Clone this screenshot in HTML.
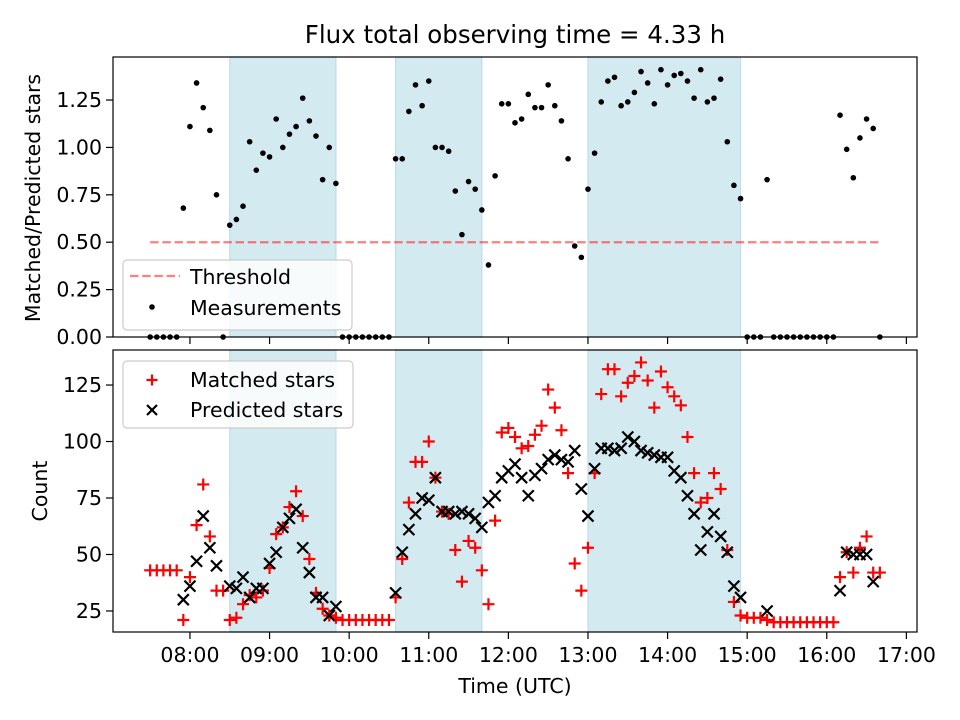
<!DOCTYPE html>
<html><head><meta charset="utf-8">
<style>
html,body{margin:0;padding:0;background:#fff;}
svg{display:block;font-family:"DejaVu Sans","Liberation Sans",sans-serif;}
</style></head>
<body>
<svg id="chart" width="960" height="720" viewBox="0 0 960 720" xmlns="http://www.w3.org/2000/svg">
  <rect width="960" height="720" fill="#fff"/>
  <text x="515" y="43" font-size="24.5" text-anchor="middle">Flux total observing time = 4.33 h</text>
  <g id="topPanel"></g>
  <g id="botPanel"></g>
  <text transform="translate(40,198) rotate(-90)" font-size="20.5" text-anchor="middle">Matched/Predicted stars</text>
  <text transform="translate(47,491) rotate(-90)" font-size="20.5" text-anchor="middle">Count</text>
  <text x="515" y="693" font-size="20.5" text-anchor="middle">Time (UTC)</text>
</svg>
<script>
// time in minutes since 00:00 UTC
const times = [450,455,460,465,470,475,480,485,490,495,500,505,510,515,520,525,530,535,540,545,550,555,560,565,570,575,580,585,590,595,600,605,610,615,620,625,630,635,640,645,650,655,660,665,670,675,680,685,690,695,700,705,710,715,720,725,730,735,740,745,750,755,760,765,770,775,780,785,790,795,800,805,810,815,820,825,830,835,840,845,850,855,860,865,870,875,880,885,890,895,900,905,910,915,920,925,930,935,940,945,950,955,960,965,970,975,980,985,990,995,1000];
const ratio = [0,0,0,0,0,0.68,1.11,1.34,1.21,1.09,0.75,0,0.59,0.62,0.69,1.03,0.88,0.97,0.95,1.15,1.00,1.07,1.11,1.26,1.14,1.06,0.83,1.00,0.81,0,0,0,0,0,0,0,0,0.94,0.94,1.19,1.33,1.22,1.35,1.00,1.00,0.98,0.77,0.54,0.82,0.78,0.67,0.38,0.85,1.23,1.23,1.13,1.15,1.28,1.21,1.21,1.33,1.22,1.14,0.94,0.48,0.42,0.78,0.97,1.24,1.35,1.37,1.22,1.24,1.29,1.40,1.34,1.23,1.41,1.33,1.38,1.39,1.35,1.26,1.41,1.24,1.26,1.36,1.03,0.80,0.73,0,0,0,0.83,0,0,0,0,0,0,0,0,0,0,1.17,0.99,0.84,1.05,1.15,1.10,0];
const matched = [43,43,43,43,43,21,40,63,81,58,34,34,21,22,28,32,31,34,44,59,62,71,78,67,48,33,26,23,22,21,21,21,21,21,21,21,21,31,48,73,91,91,100,84,69,68,52,38,56,53,43,28,65,104,106,102,97,98,103,107,123,115,105,86,46,34,53,86,121,132,132,120,126,129,135,127,115,131,124,120,116,102,86,73,75,86,79,52,29,23,22,22,22,21,20,20,20,20,20,20,20,20,20,20,40,51,42,53,58,42,42];
const predicted = [null,null,null,null,null,30,36,47,67,53,45,null,36,35,40,31,35,35,46,51,62,66,70,53,42,31,31,23,27,null,null,null,null,null,null,null,null,33,51,61,68,75,74,84,69,69,68,69,68,66,62,73,76,84,87,90,84,76,85,88,92,94,92,91,96,79,67,88,97,97,96,97,102,100,96,95,94,93,93,87,84,76,68,52,60,68,58,51,36,31,null,null,null,25,null,null,null,null,null,null,null,null,null,null,34,51,50,50,50,38,null];
const spans = [[510,590],[635,700],[780,895]];
const threshold = 0.5;
const xTicks = [480,540,600,660,720,780,840,900,960,1020];
const xTickLabels = ["08:00","09:00","10:00","11:00","12:00","13:00","14:00","15:00","16:00","17:00"];
const ratioTicks = [0,0.25,0.5,0.75,1.0,1.25];
const ratioTickLabels = ["0.00","0.25","0.50","0.75","1.00","1.25"];
const countTicks = [25,50,75,100,125];
const countTickLabels = ["25","50","75","100","125"];

const NS = "http://www.w3.org/2000/svg";
const L = 113, R = 917;
const X0 = 422, X1 = 1028;
const xs = t => L + (t - X0) / (X1 - X0) * (R - L);
const TP = {top:57, bot:337, min:0, max:1.477};
const BP = {top:350, bot:632, min:15.7, max:140.5};
const ys = (P, v) => P.bot - (v - P.min) / (P.max - P.min) * (P.bot - P.top);
const FS = 20.5;

function mk(tag, attrs, parent){
  const e = document.createElementNS(NS, tag);
  for (const k in attrs) e.setAttribute(k, attrs[k]);
  parent.appendChild(e);
  return e;
}

function panel(g, P, ticks, labels, showXLabels, prefix){
  for (let i=0;i<spans.length;i++){
    const s = spans[i];
    const r = mk('rect',{x:xs(s[0]),y:P.top,width:xs(s[1])-xs(s[0]),height:P.bot-P.top,fill:'rgb(212,234,241)',stroke:'rgb(190,222,232)','stroke-width':1.2},g);
    
    
  }
  for (let i=0;i<ticks.length;i++){
    const y = ys(P, ticks[i]);
    mk('line',{x1:L-7,x2:L,y1:y,y2:y,stroke:'#000','stroke-width':1.2},g);
    const t = mk('text',{x:L-11,y:y+7,'font-size':FS,'text-anchor':'end'},g);
    t.textContent = labels[i];
    
    
  }
  for (let i=0;i<xTicks.length;i++){
    const x = xs(xTicks[i]);
    mk('line',{x1:x,x2:x,y1:P.bot,y2:P.bot+7,stroke:'#000','stroke-width':1.2},g);
    if (showXLabels){
      const t = mk('text',{x:x,y:P.bot+30,'font-size':FS,'text-anchor':'middle'},g);
      t.textContent = xTickLabels[i];
      
      
    }
  }
}

const topG = document.getElementById('topPanel');
const botG = document.getElementById('botPanel');
panel(topG, TP, ratioTicks, ratioTickLabels, false, 'ratio');
panel(botG, BP, countTicks, countTickLabels, true, 'count');

// threshold
const th = mk('line',{x1:xs(times[0]),x2:xs(times[times.length-1]),y1:ys(TP,threshold),y2:ys(TP,threshold),stroke:'rgba(255,0,0,0.5)','stroke-width':2.2,'stroke-dasharray':'8.5,3.7'},topG);



// measurements
for (let i=0;i<times.length;i++){
  const c = mk('circle',{cx:xs(times[i]),cy:ys(TP,ratio[i]),r:2.8,fill:'#000'},topG);
  
  
}

function plus(g,x,y,s){
  return mk('path',{d:`M${x-s} ${y}H${x+s}M${x} ${y-s}V${y+s}`,stroke:'#ff0000','stroke-width':2.2,fill:'none'},g);
}
function cross(g,x,y,s){
  return mk('path',{d:`M${x-s} ${y-s}L${x+s} ${y+s}M${x-s} ${y+s}L${x+s} ${y-s}`,stroke:'#000','stroke-width':2.2,fill:'none'},g);
}
for (let i=0;i<times.length;i++){
  const p = plus(botG, xs(times[i]), ys(BP, matched[i]), 6);
  
  
}
for (let i=0;i<times.length;i++){
  if (predicted[i]===null) continue;
  const p = cross(botG, xs(times[i]), ys(BP, predicted[i]), 5.5);
  
  
}

// spines
for (const P of [TP,BP]){
  const f = mk('rect',{x:L,y:P.top,width:R-L,height:P.bot-P.top,fill:'none',stroke:'#000','stroke-width':1.2},P===TP?topG:botG);
  
  
}

// legends
const lg1 = mk('g',{},topG);


mk('rect',{x:123,y:260,width:229,height:70,rx:4,fill:'rgba(255,255,255,0.8)',stroke:'#ccc','stroke-width':1.2},lg1);
mk('line',{x1:130,x2:180,y1:276,y2:276,stroke:'rgba(255,0,0,0.5)','stroke-width':2.2,'stroke-dasharray':'8.5,3.7'},lg1);
let t = mk('text',{x:190,y:284,'font-size':FS},lg1); t.textContent='Threshold';


mk('circle',{cx:152,cy:307,r:2.8,fill:'#000'},lg1);
t = mk('text',{x:190,y:315,'font-size':FS},lg1); t.textContent='Measurements';



const lg2 = mk('g',{},botG);


mk('rect',{x:123,y:361,width:230,height:67,rx:4,fill:'rgba(255,255,255,0.8)',stroke:'#ccc','stroke-width':1.2},lg2);
plus(lg2,152,380,5.5);
t = mk('text',{x:190,y:387,'font-size':FS},lg2); t.textContent='Matched stars';


cross(lg2,152,410,5);
t = mk('text',{x:190,y:417,'font-size':FS},lg2); t.textContent='Predicted stars';


</script>
</body></html>
